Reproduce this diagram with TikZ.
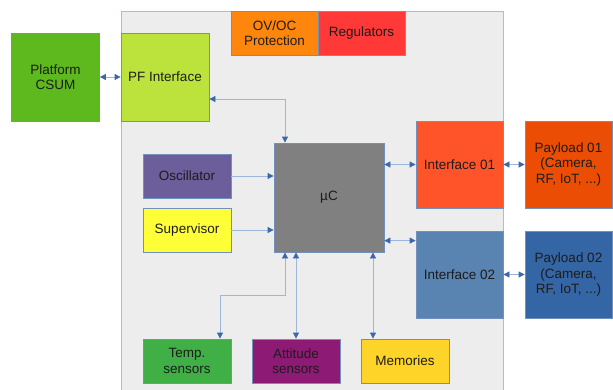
\documentclass[tikz,border=0pt]{standalone}
\usepackage{fontspec}
\setmainfont{Liberation Sans}
\usetikzlibrary{arrows.meta}

\definecolor{panelfill}{HTML}{EDEDED}
\definecolor{panelline}{HTML}{A9BCD8}
\definecolor{boxline}{HTML}{7290BA}
\definecolor{wireline}{HTML}{9DB6DA}
\definecolor{tipblue}{HTML}{3C67A8}
\definecolor{txt}{HTML}{1C1C1C}
\definecolor{platformfill}{HTML}{5EB91E}
\definecolor{pfiffill}{HTML}{BCE23C}
\definecolor{ovocfill}{HTML}{FF860D}
\definecolor{regsfill}{HTML}{FF3838}
\definecolor{oscfill}{HTML}{6B5E9B}
\definecolor{supfill}{HTML}{FFFF38}
\definecolor{ucfill}{HTML}{808080}
\definecolor{ifonefill}{HTML}{FF5429}
\definecolor{plonefill}{HTML}{EB4D05}
\definecolor{iftwofill}{HTML}{5983B0}
\definecolor{pltwofill}{HTML}{3465A4}
\definecolor{tempfill}{HTML}{3FAF46}
\definecolor{attfill}{HTML}{8D1B75}
\definecolor{memfill}{HTML}{FFD428}

\tikzset{
  blk/.style={draw=boxline, line width=0.8pt, text=txt, align=center,
    font=\fontsize{13.5}{15.5}\selectfont, inner sep=0pt},
  bigblk/.style={blk, minimum width=88pt, minimum height=88pt},
  smallblk/.style={blk, minimum width=88pt, minimum height=44pt},
  wire/.style={draw=wireline, line width=0.8pt},
  biarrow/.style={wire, {Triangle[length=6pt,width=6pt,color=tipblue]}-{Triangle[length=6pt,width=6pt,color=tipblue]}},
  oneway/.style={wire, -{Triangle[length=6pt,width=6pt,color=tipblue]}}
}

\begin{document}
\begin{tikzpicture}[x=1pt, y=-1pt]
\useasboundingbox (0,0) rectangle (613,389);

% board
\fill[panelfill] (121,11) rectangle (503,395);
\draw[panelline, line width=0.8pt] (121,395) -- (121,11) -- (503,11) -- (503,395);

% blocks
\node[bigblk, fill=platformfill] (platform) at (55.5,77) {Platform\\CSUM};
\node[bigblk, fill=pfiffill] (pfif) at (165,77) {PF Interface};
\node[smallblk, minimum width=87pt, fill=ovocfill] (ovoc) at (274.5,33) {OV/OC\\Protection};
\node[smallblk, minimum width=87pt, fill=regsfill] (regs) at (361.5,33) {Regulators};
\node[smallblk, fill=oscfill] (osc) at (187,176) {Oscillator};
\node[smallblk, fill=supfill] (sup) at (187,230) {Supervisor};
\node[blk, minimum width=110pt, minimum height=109pt, fill=ucfill] (uc) at (329,197.5) {µC};
\node[bigblk, minimum width=87pt, minimum height=87pt, fill=ifonefill] (if1) at (459.5,164.5) {Interface 01};
\node[bigblk, minimum width=87pt, minimum height=87pt, fill=plonefill] (pl1) at (568.5,164.5) {Payload 01\\(Camera,\\RF, IoT, ...)};
\node[bigblk, minimum width=87pt, minimum height=87pt, fill=iftwofill] (if2) at (459.5,274.5) {Interface 02};
\node[bigblk, minimum width=87pt, minimum height=87pt, fill=pltwofill] (pl2) at (568.5,274.5) {Payload 02\\(Camera,\\RF, IoT, ...)};
\node[smallblk, fill=tempfill] (temp) at (187,361) {Temp.\\sensors};
\node[smallblk, fill=attfill] (att) at (296,361) {Attitude\\sensors};
\node[smallblk, fill=memfill] (mem) at (405,361) {Memories};

% links
\draw[biarrow] (platform) -- (pfif);
\draw[biarrow] ([yshift=-22pt]pfif.east) -| ([xshift=-44pt]uc.north);
\draw[oneway] (osc.east) -- (osc.east -| uc.west);
\draw[oneway] (sup.east) -- (sup.east -| uc.west);
\draw[biarrow] (uc.east |- if1.west) -- (if1.west);
\coordinate (iftwoport) at ([yshift=-10pt]if2.north west);
\draw[biarrow] (uc.east |- iftwoport) -- (iftwoport);
\draw[biarrow] (if1) -- (pl1);
\draw[biarrow] (if2) -- (pl2);
\draw[biarrow] ([xshift=33pt]temp.north) -- ++(0,-43) -| ([xshift=-44pt]uc.south);
\draw[biarrow] (att.north) -- (att.north |- uc.south);
\coordinate (memtop) at ([xshift=-32pt]mem.north);
\draw[biarrow] (memtop) -- (memtop |- uc.south);
\end{tikzpicture}
\end{document}
